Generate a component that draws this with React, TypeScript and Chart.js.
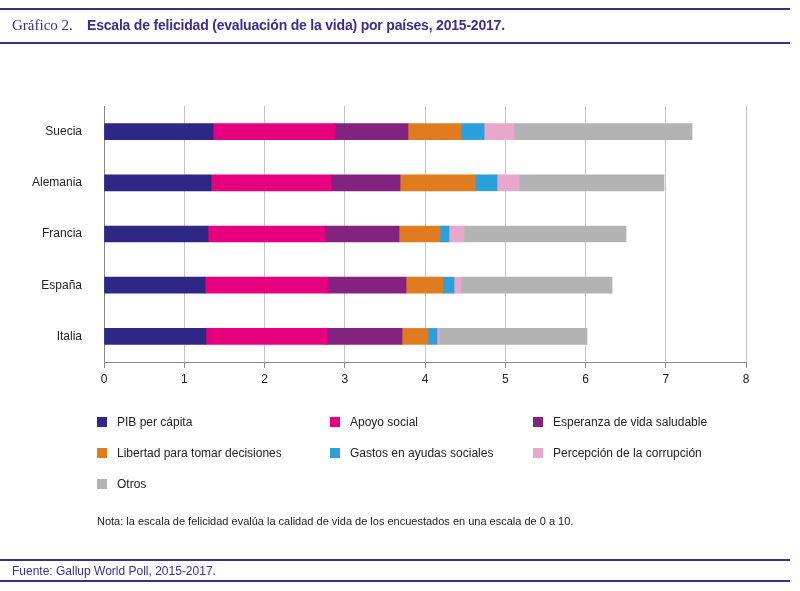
import React, { useEffect, useRef } from "react";
import { Chart, registerables } from "chart.js";
Chart.register(...registerables);

const countries = ["Suecia", "Alemania", "Francia", "España", "Italia"];
const seriesNames = ["PIB per cápita", "Apoyo social", "Esperanza de vida saludable", "Libertad para tomar decisiones", "Gastos en ayudas sociales", "Percepción de la corrupción", "Otros"];
const colors = ["#2e2785", "#e6007e", "#84237f", "#e07b20", "#2aa0dc", "#e8a8cc", "#b3b3b3"];
const pib = [1.358, 1.333, 1.296, 1.259, 1.271];
const apoyo = [1.521, 1.496, 1.458, 1.533, 1.508];
const esperanza = [0.909, 0.860, 0.922, 0.972, 0.935];
const libertad = [0.661, 0.935, 0.511, 0.461, 0.324];
const gastos = [0.287, 0.274, 0.112, 0.137, 0.112];
const corrupcion = [0.374, 0.274, 0.187, 0.087, 0.025];
const otros = [2.218, 1.806, 2.019, 1.882, 1.844];
const xTicks = [0, 1, 2, 3, 4, 5, 6, 7, 8];

const FONT = "'Liberation Sans', Arial, sans-serif";
const PURPLE = "#3d2e8c";

export default function App() {
  const ref = useRef<HTMLCanvasElement>(null);
  useEffect(() => {
    const all = [pib, apoyo, esperanza, libertad, gastos, corrupcion, otros];
    const chart = new Chart(ref.current!, {
      type: "bar",
      data: {
        labels: countries,
        datasets: all.map((d, i) => ({ label: seriesNames[i], data: d, backgroundColor: colors[i], barThickness: 16 })),
      },
      options: {
        indexAxis: "y",
        animation: false,
        responsive: false,
        layout: { padding: { left: 4, right: 54, top: 106, bottom: 199 } },
        plugins: { legend: { display: false }, tooltip: { enabled: false } },
        scales: {
          x: {
            stacked: true, min: 0, max: 8,
            afterFit: (s: any) => { s.height = 30; },
            afterBuildTicks: (s: any) => { s.ticks = xTicks.map((v) => ({ value: v })); },
            grid: { color: "#c8c0e0", drawTicks: true, tickLength: 6, tickColor: "#888" },
            border: { color: "#888" },
            ticks: { color: "#222", font: { family: FONT, size: 12 }, padding: 4 },
          },
          y: {
            stacked: true,
            afterFit: (s: any) => { s.width = 100; },
            grid: { display: false },
            border: { color: "#888" },
            ticks: { color: "#222", font: { family: FONT, size: 12 }, padding: 14 },
          },
        },
      },
    });
    return () => chart.destroy();
  }, []);

  const legendPos = [[97, 423], [330, 423], [533, 423], [97, 454], [330, 454], [533, 454], [97, 485]];
  return (
    <div style={{ position: "absolute", left: 0, top: 0, width: 800, height: 591, background: "#fff", fontFamily: FONT, color: "#222" }}>
      <canvas ref={ref} width={800} height={591} style={{ position: "absolute", left: 0, top: 0 }} />
      <div style={{ position: "absolute", left: 0, top: 8, width: 790, height: 2, background: PURPLE }} />
      <div style={{ position: "absolute", left: 12, top: 17, fontFamily: "'Liberation Serif', serif", fontSize: 15, color: PURPLE }}>Gráfico 2.</div>
      <div style={{ position: "absolute", left: 87, top: 17, fontSize: 14, fontWeight: "bold", color: PURPLE, letterSpacing: -0.2 }}>Escala de felicidad (evaluación de la vida) por países, 2015-2017.</div>
      <div style={{ position: "absolute", left: 0, top: 42, width: 790, height: 2, background: PURPLE }} />
      {seriesNames.map((n, i) => (
        <div key={n} style={{ position: "absolute", left: legendPos[i][0], top: legendPos[i][1] - 8, fontSize: 12, display: "flex", alignItems: "center", whiteSpace: "nowrap" }}>
          <span style={{ display: "inline-block", width: 10, height: 10, background: colors[i], marginRight: 10 }} />{n}
        </div>
      ))}
      <div style={{ position: "absolute", left: 97, top: 515, fontSize: 11 }}>Nota: la escala de felicidad evalúa la calidad de vida de los encuestados en una escala de 0 a 10.</div>
      <div style={{ position: "absolute", left: 0, top: 559, width: 790, height: 2, background: PURPLE }} />
      <div style={{ position: "absolute", left: 12, top: 564, fontSize: 12, color: PURPLE }}>Fuente: Gallup World Poll, 2015-2017.</div>
      <div style={{ position: "absolute", left: 0, top: 580, width: 790, height: 2, background: PURPLE }} />
    </div>
  );
}
